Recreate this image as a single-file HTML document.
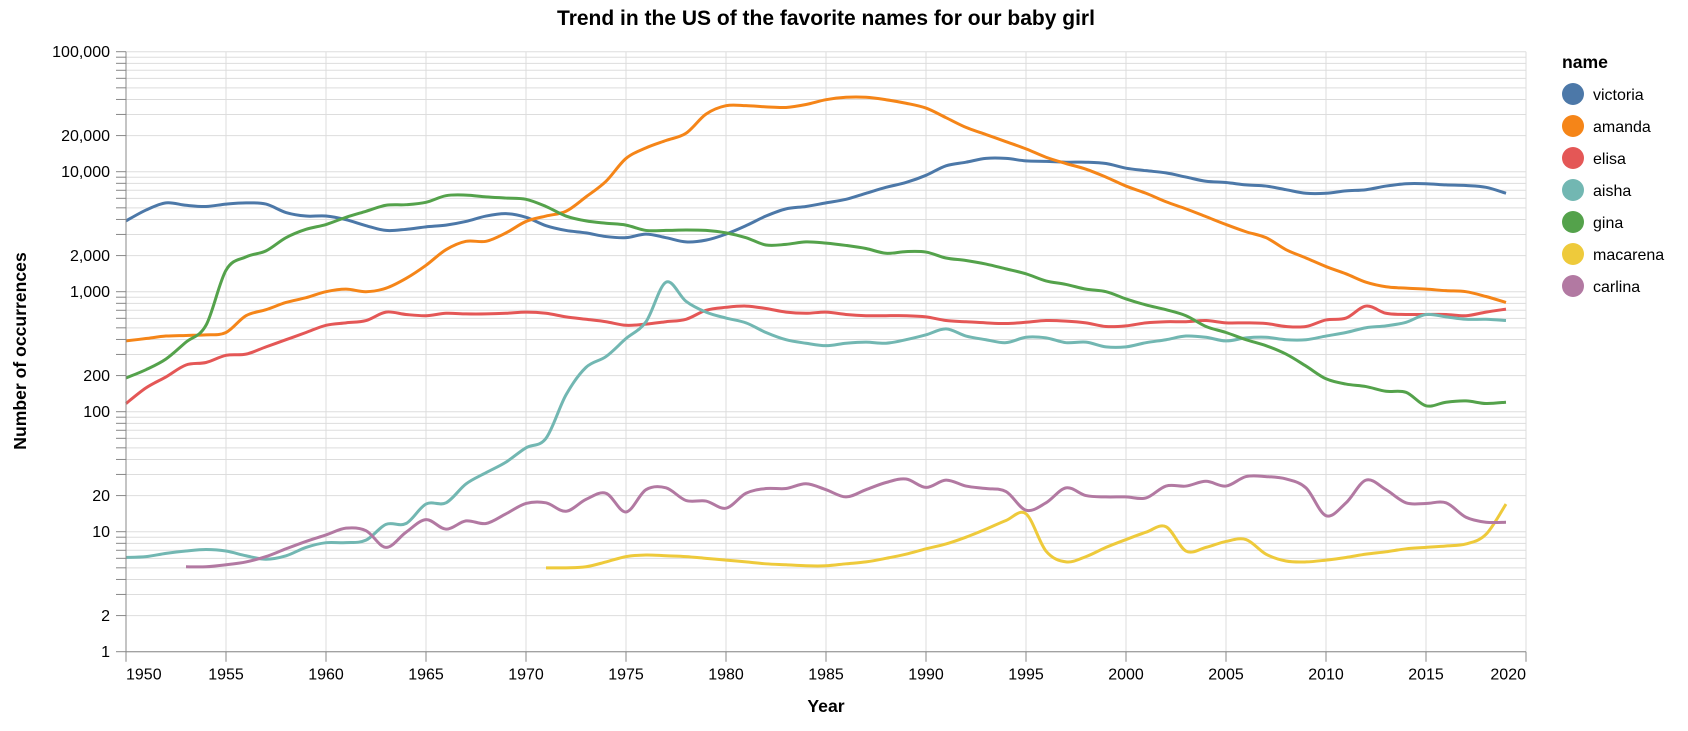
<!DOCTYPE html>
<html><head><meta charset="utf-8"><style>
html,body{margin:0;padding:0;background:#fff;}
svg text{font-family:"Liberation Sans",Arial,sans-serif;}
</style></head><body>
<svg id="chart" width="1688" height="726" viewBox="0 0 1688 726" xmlns="http://www.w3.org/2000/svg">
<text x="826" y="25" text-anchor="middle" font-size="21" font-weight="bold" fill="#000">Trend in the US of the favorite names for our baby girl</text>
<g id="grid"></g>
<g id="lines"></g>
<g id="axes"></g>
<text x="826" y="712" text-anchor="middle" font-size="17.6" font-weight="bold">Year</text>
<text transform="translate(26,351) rotate(-90)" text-anchor="middle" font-size="17.6" font-weight="bold">Number of occurrences</text>
<g id="legend"></g>
</svg>
<script>
const names = ["victoria","amanda","elisa","aisha","gina","macarena","carlina"];
const colors = ["#4c78a8","#f58518","#e45756","#72b7b2","#54a24b","#eeca3b","#b279a2"];
const startYears = [1950,1950,1950,1950,1950,1971,1953];
const victoria = [3890,4790,5500,5250,5130,5370,5500,5370,4570,4270,4270,3980,3550,3240,3310,3470,3590,3850,4270,4470,4170,3550,3240,3090,2880,2820,3020,2820,2600,2690,3020,3550,4270,4900,5130,5500,5890,6610,7410,8130,9330,11200,12000,12900,12900,12300,12200,12000,12000,11700,10700,10200,9770,9020,8320,8130,7760,7590,7080,6610,6610,6920,7080,7590,7940,7940,7760,7670,7410,6610];
const amanda = [389,407,427,432,437,457,631,708,813,891,1000,1050,1000,1070,1290,1660,2240,2630,2630,3090,3850,4270,4680,6170,8320,12900,15800,18200,20900,30200,35500,35500,34700,34300,36300,39800,41700,41700,39800,37200,33900,28200,23400,20400,17800,15500,13200,11700,10500,9020,7590,6610,5620,4900,4220,3630,3160,2820,2240,1910,1620,1410,1200,1100,1070,1050,1020,1000,912,813];
const elisa = [117,158,195,245,257,295,302,347,398,457,525,550,575,676,646,631,661,653,653,661,676,661,617,589,562,525,537,562,589,700,741,759,724,676,661,676,646,631,631,631,617,575,562,550,543,556,575,569,550,513,519,550,562,562,575,550,550,543,513,513,582,603,759,661,646,646,646,631,676,716];
const aisha = [6.1,6.2,6.6,6.9,7.1,6.9,6.3,5.9,6.3,7.4,8.1,8.1,8.5,11.5,11.7,17,17.4,25,31,38,50,60,138,234,288,407,562,1200,832,676,603,550,457,398,372,355,372,380,372,398,437,490,427,398,376,417,412,376,380,347,347,376,398,427,417,389,412,417,398,398,427,457,501,519,556,646,617,589,589,575];
const gina = [191,224,275,380,525,1510,1950,2190,2820,3310,3630,4170,4680,5250,5310,5560,6310,6380,6170,6030,5890,5130,4270,3890,3720,3590,3240,3240,3270,3240,3090,2820,2450,2480,2600,2540,2430,2290,2090,2160,2140,1910,1820,1700,1550,1410,1230,1150,1050,1000,871,776,708,631,513,457,398,355,302,240,188,170,162,148,145,112,120,123,117,120];
const macarena = [5.0,5.0,5.1,5.6,6.2,6.4,6.3,6.2,6.0,5.8,5.6,5.4,5.3,5.2,5.2,5.4,5.6,6.0,6.5,7.2,7.9,9.0,10.5,12.4,14.1,6.9,5.6,6.2,7.4,8.6,9.9,11.0,6.9,7.4,8.3,8.6,6.5,5.7,5.6,5.8,6.1,6.5,6.8,7.2,7.4,7.6,7.9,9.5,17];
const carlina = [5.1,5.1,5.3,5.6,6.2,7.2,8.3,9.4,10.7,10.2,7.4,9.9,12.6,10.5,12.3,11.7,14.1,17.2,17.4,14.8,18.6,20.9,14.6,22.4,23.2,18.2,18,15.7,20.9,22.9,22.9,25.1,22.4,19.5,22.4,25.7,27.5,23.4,26.9,24,22.9,21.6,15.1,17.4,23.2,20,19.5,19.5,19.1,24,24,26.3,24,28.8,28.8,27.5,23.2,13.6,17.4,26.9,22.4,17.4,17.2,17.4,13.2,12,12];
const series = [victoria,amanda,elisa,aisha,gina,macarena,carlina];
const xTicks = [1950,1955,1960,1965,1970,1975,1980,1985,1990,1995,2000,2005,2010,2015,2020];
const yTickLabels = [[1,"1"],[2,"2"],[10,"10"],[20,"20"],[100,"100"],[200,"200"],[1000,"1,000"],[2000,"2,000"],[10000,"10,000"],[20000,"20,000"],[100000,"100,000"]];

const X0=126,X1=1526,Y0=651.7,Y1=51.7;
function xs(yr){return X0+(yr-1950)/(2020-1950)*(X1-X0);}
function ys(v){return Y0-(Math.log10(v)-0)/5*(Y0-Y1);}
const NS="http://www.w3.org/2000/svg";
function mk(tag,attrs,parent){const e=document.createElementNS(NS,tag);for(const k in attrs)e.setAttribute(k,attrs[k]);parent.appendChild(e);return e;}
const grid=document.getElementById('grid'),axes=document.getElementById('axes'),lines=document.getElementById('lines'),legend=document.getElementById('legend');

// minor/major y grid
for(let d=0;d<5;d++){for(let m=1;m<=9;m++){const v=m*Math.pow(10,d);const y=ys(v);
 const g=mk('line',{x1:X0,x2:X1,y1:y,y2:y,stroke:'#ddd','stroke-width':1},grid);
 
 
 const t=mk('line',{x1:X0-10,x2:X0,y1:y,y2:y,stroke:'#888','stroke-width':1},axes);
 
 
}}
{const y=ys(100000);const g=mk('line',{x1:X0,x2:X1,y1:y,y2:y,stroke:'#ddd'},grid);
 const t=mk('line',{x1:X0-10,x2:X0,y1:y,y2:y,stroke:'#888'},axes);}
yTickLabels.forEach(([v,l])=>{const t=mk('text',{x:X0-16,y:ys(v)+5.5,'text-anchor':'end','font-size':16,fill:'#000'},axes);t.textContent=l;
 
 });
xTicks.forEach((yr,i)=>{const x=xs(yr);
 const g=mk('line',{x1:x,x2:x,y1:Y1,y2:Y0,stroke:'#ddd'},grid);
 
 
 const t=mk('line',{x1:x,x2:x,y1:Y0,y2:Y0+10,stroke:'#888'},axes);
 
 
 const anchor=i===0?'start':(i===xTicks.length-1?'end':'middle');
 const lb=mk('text',{x:x,y:Y0+28,'text-anchor':anchor,'font-size':16},axes);lb.textContent=yr;
 
 
});
{const a=mk('line',{x1:X0,x2:X0,y1:Y1,y2:Y0,stroke:'#888'},axes);
 const b=mk('line',{x1:X0,x2:X1,y1:Y0,y2:Y0,stroke:'#888'},axes);}

function pathFor(pts){let d='M'+pts[0][0]+','+pts[0][1];
 for(let i=0;i<pts.length-1;i++){const p0=pts[i-1]||pts[i],p1=pts[i],p2=pts[i+1],p3=pts[i+2]||pts[i+1];
  const c1=[p1[0]+(p2[0]-p0[0])/6,p1[1]+(p2[1]-p0[1])/6],c2=[p2[0]-(p3[0]-p1[0])/6,p2[1]-(p3[1]-p1[1])/6];
  d+=' C'+c1[0].toFixed(2)+','+c1[1].toFixed(2)+' '+c2[0].toFixed(2)+','+c2[1].toFixed(2)+' '+p2[0].toFixed(2)+','+p2[1].toFixed(2);}
 return d;}
series.forEach((vals,si)=>{const pts=vals.map((v,i)=>[xs(startYears[si]+i),ys(v)]);
 const p=mk('path',{d:pathFor(pts),fill:'none',stroke:colors[si],'stroke-width':3,'stroke-linejoin':'round','stroke-linecap':'butt'},lines);
 
 
});
{const t=mk('text',{x:1562,y:68,'font-size':17.6,'font-weight':'bold'},legend);t.textContent='name';
 
 }
names.forEach((n,i)=>{const cy=94+i*32;
 const g=mk('g',{},legend);
 
 
 mk('circle',{cx:1573,cy:cy,r:11,fill:colors[i]},g);
 const t=mk('text',{x:1593,y:cy+6,'font-size':16},g);t.textContent=n;
});
</script>
</body></html>
